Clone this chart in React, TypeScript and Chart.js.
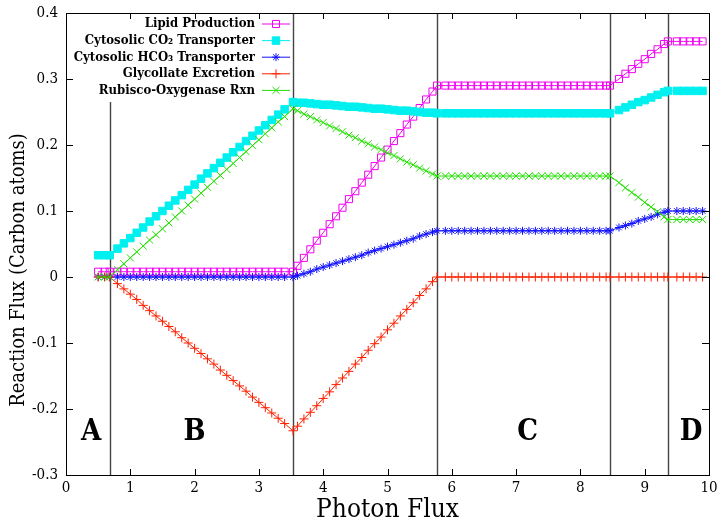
import React, { useEffect, useRef } from "react";
import { Chart, registerables } from "chart.js";

Chart.register(...registerables);

// Photon flux sample points
const PHOTON_FLUX = [
  0.5, 0.6, 0.68,
  0.8, 0.9, 1.0, 1.1, 1.2, 1.3, 1.4, 1.5, 1.6, 1.7, 1.8, 1.9, 2.0, 2.1, 2.2, 2.3, 2.4, 2.5, 2.6, 2.7, 2.8, 2.9, 3.0, 3.1, 3.2, 3.3, 3.4, 3.53,
  3.6, 3.7, 3.8, 3.9, 4.0, 4.1, 4.2, 4.3, 4.4, 4.5, 4.6, 4.7, 4.8, 4.9, 5.0, 5.1, 5.2, 5.3, 5.4, 5.5, 5.6, 5.7, 5.77,
  5.9, 6.0, 6.1, 6.2, 6.3, 6.4, 6.5, 6.6, 6.7, 6.8, 6.9, 7.0, 7.1, 7.2, 7.3, 7.4, 7.5, 7.6, 7.7, 7.8, 7.9, 8.0, 8.1, 8.2, 8.3, 8.4, 8.46,
  8.6, 8.7, 8.8, 8.9, 9.0, 9.1, 9.2, 9.3, 9.36,
  9.5, 9.6, 9.7, 9.8, 9.9,
];

const LIPID = [
  0.008, 0.008, 0.008,
  0.008, 0.008, 0.008, 0.008, 0.008, 0.008, 0.008, 0.008, 0.008,
  0.008, 0.008, 0.008, 0.008, 0.008, 0.008, 0.008, 0.008, 0.008,
  0.008, 0.008, 0.008, 0.008, 0.008, 0.008, 0.008, 0.008, 0.008, 0.008,
  0.017, 0.029, 0.042, 0.055, 0.067, 0.080, 0.092, 0.105, 0.118, 0.130, 0.143, 0.155,
  0.168, 0.181, 0.193, 0.206, 0.218, 0.231, 0.243, 0.256, 0.269, 0.281, 0.290,
  0.290, 0.290, 0.290, 0.290, 0.290, 0.290, 0.290, 0.290, 0.290,
  0.290, 0.290, 0.290, 0.290, 0.290, 0.290, 0.290, 0.290, 0.290,
  0.290, 0.290, 0.290, 0.290, 0.290, 0.290, 0.290, 0.290, 0.290,
  0.300, 0.308, 0.315, 0.323, 0.330, 0.338, 0.345, 0.353, 0.357,
  0.357, 0.357, 0.357, 0.357, 0.357,
];

const CO2_TRANSPORT = [
  0.033, 0.033, 0.033,
  0.043, 0.051, 0.059, 0.067, 0.075, 0.084, 0.092, 0.100, 0.108, 0.116,
  0.124, 0.132, 0.140, 0.149, 0.157, 0.165, 0.173, 0.181, 0.189, 0.197,
  0.206, 0.214, 0.222, 0.230, 0.238, 0.246, 0.254, 0.265,
  0.264, 0.264, 0.263, 0.262, 0.261, 0.261, 0.260, 0.259, 0.258, 0.258, 0.257, 0.256,
  0.255, 0.255, 0.254, 0.253, 0.252, 0.252, 0.251, 0.250, 0.249, 0.249, 0.248,
  0.248, 0.248, 0.248, 0.248, 0.248, 0.248, 0.248, 0.248, 0.248,
  0.248, 0.248, 0.248, 0.248, 0.248, 0.248, 0.248, 0.248, 0.248,
  0.248, 0.248, 0.248, 0.248, 0.248, 0.248, 0.248, 0.248, 0.248,
  0.253, 0.257, 0.261, 0.265, 0.268, 0.272, 0.276, 0.280, 0.282,
  0.282, 0.282, 0.282, 0.282, 0.282,
];

const HCO3_TRANSPORT = [
  0, 0, 0,
  0, 0, 0, 0, 0, 0, 0, 0, 0, 0,
  0, 0, 0, 0, 0, 0, 0, 0, 0, 0,
  0, 0, 0, 0, 0, 0, 0, 0,
  0.002, 0.005, 0.008, 0.012, 0.015, 0.018, 0.021, 0.024, 0.027, 0.030, 0.033, 0.037,
  0.040, 0.043, 0.046, 0.049, 0.052, 0.055, 0.058, 0.062, 0.065, 0.068, 0.070,
  0.070, 0.070, 0.070, 0.070, 0.070, 0.070, 0.070, 0.070, 0.070,
  0.070, 0.070, 0.070, 0.070, 0.070, 0.070, 0.070, 0.070, 0.070,
  0.070, 0.070, 0.070, 0.070, 0.070, 0.070, 0.070, 0.070, 0.070,
  0.075, 0.078, 0.081, 0.085, 0.088, 0.091, 0.095, 0.098, 0.100,
  0.100, 0.100, 0.100, 0.100, 0.100,
];

const GLYCOLLATE = [
  0, 0, 0,
  -0.010, -0.018, -0.026, -0.034, -0.043, -0.051, -0.059, -0.067, -0.075, -0.083,
  -0.092, -0.100, -0.108, -0.116, -0.124, -0.132, -0.141, -0.149, -0.157, -0.165,
  -0.173, -0.182, -0.190, -0.198, -0.206, -0.214, -0.222, -0.233,
  -0.226, -0.215, -0.205, -0.195, -0.184, -0.174, -0.163, -0.153, -0.143, -0.132, -0.122, -0.111,
  -0.101, -0.091, -0.080, -0.070, -0.059, -0.049, -0.039, -0.028, -0.018, -0.007, 0,
  0, 0, 0, 0, 0, 0, 0, 0, 0,
  0, 0, 0, 0, 0, 0, 0, 0, 0,
  0, 0, 0, 0, 0, 0, 0, 0, 0,
  0, 0, 0, 0, 0, 0, 0, 0, 0,
  0, 0, 0, 0, 0,
];

const RUBISCO_OXY = [
  0, 0, 0,
  0.011, 0.020, 0.029, 0.038, 0.047, 0.056, 0.064, 0.073, 0.082, 0.091,
  0.100, 0.109, 0.118, 0.127, 0.136, 0.145, 0.154, 0.163, 0.172, 0.181,
  0.190, 0.199, 0.208, 0.217, 0.226, 0.235, 0.243, 0.255,
  0.252, 0.247, 0.243, 0.238, 0.234, 0.229, 0.225, 0.220, 0.215, 0.211, 0.206, 0.202,
  0.197, 0.193, 0.188, 0.184, 0.179, 0.174, 0.170, 0.165, 0.161, 0.156, 0.153,
  0.153, 0.153, 0.153, 0.153, 0.153, 0.153, 0.153, 0.153, 0.153,
  0.153, 0.153, 0.153, 0.153, 0.153, 0.153, 0.153, 0.153, 0.153,
  0.153, 0.153, 0.153, 0.153, 0.153, 0.153, 0.153, 0.153, 0.153,
  0.143, 0.135, 0.128, 0.121, 0.113, 0.106, 0.099, 0.091, 0.087,
  0.087, 0.087, 0.087, 0.087, 0.087,
];

const SERIES_LABELS = [
  "Lipid Production",
  "Cytosolic CO\u2082 Transporter",
  "Cytosolic HCO\u2083 Transporter",
  "Glycollate Excretion",
  "Rubisco-Oxygenase Rxn",
];

const X_TICKS = [0, 1, 2, 3, 4, 5, 6, 7, 8, 9, 10];
const Y_TICKS = [-0.3, -0.2, -0.1, 0, 0.1, 0.2, 0.3, 0.4];

// Regime boundaries (photon flux) and the flux value where each boundary line ends
const BOUNDARIES = [0.68, 3.53, 5.77, 8.46, 9.36];
const BOUNDARY_TOPS = [0.265, 0.4, 0.4, 0.4, 0.4];
const REGION_LABELS = ["A", "B", "C", "D"];
const REGION_X = [0.39, 2.0, 7.18, 9.72];
const REGION_Y = -0.235;

const FONT = "'DejaVu Serif Condensed', 'DejaVu Serif', serif";

const STYLES = [
  { color: "#f000f0", fill: "rgba(0,0,0,0)", pointStyle: "rect", radius: 5, order: 4 },
  { color: "#00f0f0", fill: "#00f0f0", pointStyle: "rect", radius: 5.3, order: 3 },
  { color: "#1010ff", fill: "#1010ff", pointStyle: "star", radius: 4, order: 2 },
  { color: "#ff2000", fill: "#ff2000", pointStyle: "cross", radius: 4.5, order: 1 },
  { color: "#22e000", fill: "#22e000", pointStyle: "crossRot", radius: 5, order: 0 },
];

function drawMarker(ctx: CanvasRenderingContext2D, style: string, x: number, y: number, r: number, color: string, fill: string) {
  ctx.save();
  ctx.strokeStyle = color;
  ctx.fillStyle = fill;
  ctx.lineWidth = 1;
  ctx.beginPath();
  if (style === "rect") {
    const s = r / Math.SQRT2;
    ctx.rect(x - s, y - s, 2 * s, 2 * s);
    ctx.fill();
    ctx.stroke();
  } else if (style === "cross" || style === "star") {
    ctx.moveTo(x, y - r); ctx.lineTo(x, y + r);
    ctx.moveTo(x - r, y); ctx.lineTo(x + r, y);
    if (style === "star") {
      const d = r * Math.SQRT1_2;
      ctx.moveTo(x - d, y - d); ctx.lineTo(x + d, y + d);
      ctx.moveTo(x + d, y - d); ctx.lineTo(x - d, y + d);
    }
    ctx.stroke();
  } else if (style === "crossRot") {
    const d = r * Math.SQRT1_2;
    ctx.moveTo(x - d, y - d); ctx.lineTo(x + d, y + d);
    ctx.moveTo(x + d, y - d); ctx.lineTo(x - d, y + d);
    ctx.stroke();
  }
  ctx.restore();
}

const overlayPlugin = {
  id: "overlay",
  beforeDatasetsDraw(chart: any) {
    const { ctx, scales } = chart;
    const xs = scales.x, ys = scales.y;
    ctx.save();
    ctx.strokeStyle = "#444";
    ctx.lineWidth = 1.4;
    BOUNDARIES.forEach((b, i) => {
      const px = Math.round(xs.getPixelForValue(b)) + 0.5;
      ctx.beginPath();
      ctx.moveTo(px, ys.getPixelForValue(-0.3));
      ctx.lineTo(px, ys.getPixelForValue(BOUNDARY_TOPS[i]));
      ctx.stroke();
    });
    ctx.restore();
  },
  afterDraw(chart: any) {
    const { ctx, chartArea, scales } = chart;
    const xs = scales.x, ys = scales.y;
    const { left, right, top, bottom } = chartArea;
    ctx.save();
    // frame
    ctx.strokeStyle = "#000";
    ctx.lineWidth = 1;
    ctx.strokeRect(Math.round(left) + 0.5, Math.round(top) + 0.5, Math.round(right - left), Math.round(bottom - top));
    // inward ticks on all sides
    ctx.beginPath();
    X_TICKS.forEach((v) => {
      const px = Math.round(xs.getPixelForValue(v)) + 0.5;
      ctx.moveTo(px, bottom); ctx.lineTo(px, bottom - 6);
      ctx.moveTo(px, top); ctx.lineTo(px, top + 6);
    });
    Y_TICKS.forEach((v) => {
      const py = Math.round(ys.getPixelForValue(v)) + 0.5;
      ctx.moveTo(left, py); ctx.lineTo(left + 7, py);
      ctx.moveTo(right, py); ctx.lineTo(right - 7, py);
    });
    ctx.stroke();

    // region letters
    ctx.fillStyle = "#000";
    ctx.font = `bold 29px ${FONT}`;
    ctx.textAlign = "center";
    ctx.textBaseline = "middle";
    REGION_LABELS.forEach((t, i) => {
      ctx.fillText(t, xs.getPixelForValue(REGION_X[i]), ys.getPixelForValue(REGION_Y));
    });

    // legend
    ctx.font = `bold 13px ${FONT}`;
    ctx.textAlign = "right";
    ctx.textBaseline = "middle";
    SERIES_LABELS.forEach((label, i) => {
      const yy = top + 11 + i * 16.6;
      const st = STYLES[i];
      ctx.fillStyle = "#000";
      ctx.fillText(label, left + 189, yy);
      ctx.strokeStyle = st.color;
      ctx.lineWidth = 1;
      ctx.beginPath();
      ctx.moveTo(left + 196, yy);
      ctx.lineTo(left + 224, yy);
      ctx.stroke();
      drawMarker(ctx, st.pointStyle, left + 210, yy, st.radius, st.color, st.fill);
    });

    // axis titles
    ctx.fillStyle = "#000";
    ctx.font = `26px ${FONT}`;
    ctx.textAlign = "center";
    ctx.textBaseline = "alphabetic";
    ctx.fillText("Photon Flux", (left + right) / 2, 517);
    ctx.save();
    ctx.font = `20px ${FONT}`;
    ctx.translate(19, 270);
    ctx.rotate(-Math.PI / 2);
    ctx.textBaseline = "middle";
    ctx.fillText("Reaction Flux (Carbon atoms)", 0, 0);
    ctx.restore();
    ctx.restore();
  },
};

export default function App() {
  const ref = useRef<HTMLCanvasElement | null>(null);
  useEffect(() => {
    if (!ref.current) return;
    const seriesValues = [LIPID, CO2_TRANSPORT, HCO3_TRANSPORT, GLYCOLLATE, RUBISCO_OXY];
    const datasets = seriesValues.map((vals, i) => {
      const st = STYLES[i];
      return {
        label: SERIES_LABELS[i],
        data: PHOTON_FLUX.map((x, j) => ({ x, y: vals[j] })),
        borderColor: st.color,
        backgroundColor: st.fill,
        borderWidth: 1,
        pointStyle: st.pointStyle,
        pointRadius: st.radius,
        pointBorderWidth: 1,
        pointBorderColor: st.color,
        pointBackgroundColor: st.fill,
        tension: 0,
        fill: false,
        order: st.order,
      };
    });
    const chart = new Chart(ref.current, {
      type: "line",
      data: { datasets } as any,
      options: {
        animation: false,
        responsive: true,
        maintainAspectRatio: false,
        devicePixelRatio: 1,
        layout: { padding: { top: 13, right: 8, left: 0, bottom: 0 } },
        plugins: { legend: { display: false }, tooltip: { enabled: false } },
        events: [],
        scales: {
          x: {
            type: "linear",
            min: 0,
            max: 10,
            afterFit: (s: any) => { s.height = 45; s.paddingLeft = 0; s.paddingRight = 0; },
            afterBuildTicks: (s: any) => { s.ticks = X_TICKS.map((v) => ({ value: v })); },
            grid: { display: false, drawTicks: false },
            border: { display: false },
            ticks: {
              color: "#000",
              padding: 4,
              maxRotation: 0,
              font: { family: FONT, size: 15 },
              callback: (v: any) => String(v),
            },
          },
          y: {
            type: "linear",
            min: -0.3,
            max: 0.4,
            afterFit: (s: any) => { s.width = 66; s.paddingTop = 0; s.paddingBottom = 0; },
            afterBuildTicks: (s: any) => { s.ticks = Y_TICKS.map((v) => ({ value: v })); },
            grid: { display: false, drawTicks: false },
            border: { display: false },
            ticks: {
              color: "#000",
              padding: 8,
              font: { family: FONT, size: 15 },
              callback: (v: any) => (Math.abs(v) < 1e-9 ? "0" : Number(v).toFixed(1)),
            },
          },
        },
      } as any,
      plugins: [overlayPlugin],
    });
    return () => chart.destroy();
  }, []);
  return (
    <div style={{ position: "fixed", left: 0, top: 0, width: 717, height: 520, background: "#fff" }}>
      <canvas ref={ref} />
    </div>
  );
}
